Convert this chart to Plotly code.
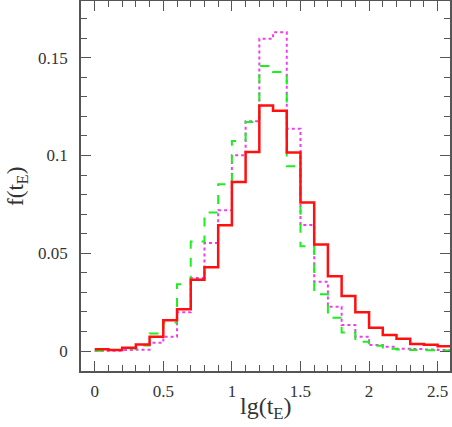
import plotly.graph_objects as go

# bin edges in lg(t_E), 0.1 wide
bin_edges = [round(0.1 * i, 1) for i in range(27)]

f_red = [0.0009, 0.0005, 0.0017, 0.0034, 0.0073, 0.0157, 0.0214, 0.0364, 0.0429, 0.0643,
         0.0865, 0.1018, 0.1256, 0.1229, 0.1015, 0.0759, 0.0545, 0.0383, 0.0281, 0.0198,
         0.0119, 0.0082, 0.0063, 0.0036, 0.0032, 0.0024]
f_green = [0.0002, 0.0005, 0.0013, 0.0029, 0.0090, 0.0146, 0.0342, 0.0560, 0.0708, 0.0853,
           0.1074, 0.1171, 0.1457, 0.1427, 0.0945, 0.0536, 0.0290, 0.0170, 0.0095, 0.0048,
           0.0027, 0.0012, 0.0008, 0.0005, 0.0004, 0.0003]
f_magenta = [0.0001, 0.0002, 0.0005, 0.0007, 0.0043, 0.0073, 0.0198, 0.0374, 0.0552, 0.0720,
             0.1001, 0.1175, 0.1597, 0.1630, 0.1137, 0.0644, 0.0354, 0.0226, 0.0133, 0.0073,
             0.0031, 0.0022, 0.0012, 0.0010, 0.0008, 0.0006]

x_ticks = [0, 0.5, 1, 1.5, 2, 2.5]
x_ticklabels = ["0", "0.5", "1", "1.5", "2", "2.5"]
y_ticks = [0, 0.05, 0.1, 0.15]
y_ticklabels = ["0", "0.05", "0.1", "0.15"]

FONT = "Liberation Serif"
AXIS = "#555555"
TEXT = "#333333"


def step_trace(vals, color, width, dash):
    return go.Scatter(
        x=bin_edges, y=vals + [vals[-1]],
        mode="lines", line_shape="hv",
        line=dict(color=color, width=width, dash=dash),
        showlegend=False, hoverinfo="skip",
    )


fig = go.Figure()
fig.add_trace(step_trace(f_magenta, "#f03cf0", 2, "dot"))
fig.add_trace(step_trace(f_green, "#1cf01c", 2, "dash"))
fig.add_trace(step_trace(f_red, "#ff1010", 2.5, "solid"))

axis_common = dict(
    showline=True, linecolor=AXIS, linewidth=1.5, mirror="ticks",
    ticks="inside", ticklen=10, tickwidth=1.2, tickcolor=AXIS,
    showgrid=False, zeroline=False, automargin=False,
    tickfont=dict(family=FONT, size=17, color=TEXT),
)

fig.update_xaxes(
    range=[-0.1, 2.59], tickvals=x_ticks, ticktext=x_ticklabels, ticklabelstandoff=4,
    minor=dict(dtick=0.1, tick0=0, ticks="inside", ticklen=6, tickcolor=AXIS, tickwidth=1),
    **axis_common,
)
fig.update_yaxes(
    range=[-0.0102, 0.179], tickvals=y_ticks, ticktext=y_ticklabels, ticklabelstandoff=8,
    minor=dict(dtick=0.01, tick0=0, ticks="inside", ticklen=6, tickcolor=AXIS, tickwidth=1),
    **axis_common,
)

fig.update_layout(
    width=452, height=427,
    margin=dict(l=81, r=2, t=1, b=56),
    paper_bgcolor="white", plot_bgcolor="white",
    annotations=[
        dict(text="lg(t<sub>E</sub>)", xref="paper", yref="paper", x=0.5, y=-0.1,
             xanchor="center", yanchor="middle", showarrow=False,
             font=dict(family=FONT, size=24, color=TEXT)),
        dict(text="f(t<sub>E</sub>)", xref="paper", yref="paper", x=-0.217, y=0.5,
             xanchor="left", yanchor="middle", textangle=-90, showarrow=False,
             font=dict(family=FONT, size=23, color=TEXT)),
    ],
)

# the page's default 8px body margin would shift the figure
fig.write_html("out.html", config={"displayModeBar": False},
               post_script="document.body.style.margin='0';")
